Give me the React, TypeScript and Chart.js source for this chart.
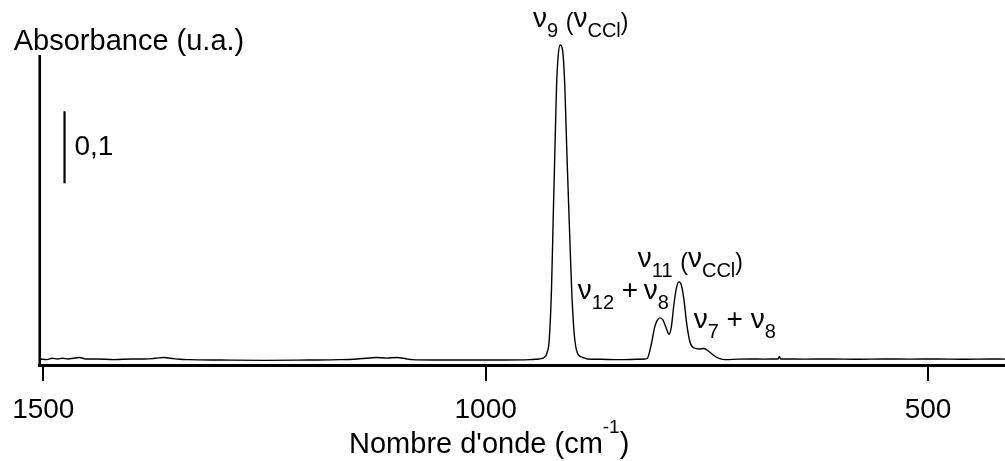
import React, { useEffect, useRef } from "react";
import { Chart, registerables } from "chart.js";

Chart.register(...registerables);

const FONT = '"Liberation Sans", Arial, Helvetica, sans-serif';

// Spectrum: wavenumber (cm-1) and absorbance (u.a.)
const wavenumbers = [
  1504, 1496, 1490, 1484, 1478, 1472, 1466, 1459, 1452, 1440, 1420, 1400, 1385, 1377, 1370,
  1363, 1356, 1346, 1335, 1300, 1250, 1200, 1165, 1145, 1135, 1124, 1112, 1100, 1090, 1083,
  1060, 1020, 980, 950, 944, 940, 937.6, 933.9, 930.5, 928.2, 925.5, 923.7, 921.8, 919.9,
  918.1, 915.8, 913.1, 910.5, 908.2, 905.6, 902.9, 900.0, 896.2, 890, 884.9, 870, 850, 830,
  820, 817.2, 812.6, 808.9, 805.9, 802.9, 799.5, 795.7, 792.8, 790.1, 787.1, 784.1, 781.5,
  778.8, 775.8, 772.8, 769.1, 764.6, 758.9, 753.3, 747.6, 742, 736.3, 728.8, 715, 700, 685,
  672, 669.5, 668, 666.5, 664, 640, 610, 580, 550, 520, 490, 460, 430, 413,
];
const absorbance = [
  0.001, 0.0, 0.002, 0.001, 0.002, 0.001, 0.002, 0.003, 0.001, 0.001, 0.0, 0.001, 0.001, 0.0015, 0.0025,
  0.003, 0.002, 0.0005, 0.0, -0.0005, -0.001, -0.0005, 0.0, 0.001, 0.002, 0.003, 0.0022, 0.003, 0.0012, 0.0,
  -0.0005, -0.0005, -0.0005, 0.0, 0.0005, 0.001, 0.0015, 0.003, 0.01, 0.027, 0.101, 0.194, 0.287, 0.379,
  0.421, 0.437, 0.43, 0.379, 0.287, 0.194, 0.101, 0.037, 0.009, 0.003, 0.001, 0.0005, 0.0, 0.0005,
  0.001, 0.002, 0.0225, 0.0456, 0.0549, 0.058, 0.0549, 0.0433, 0.0354, 0.0456, 0.078, 0.101, 0.108,
  0.1035, 0.0826, 0.0503, 0.0246, 0.0163, 0.0149, 0.0156, 0.0114, 0.0058, 0.0019, 0.0, 0.0008, 0.001, 0.0008,
  0.001, 0.001, 0.0045, 0.001, 0.001, 0.0008, 0.001, 0.0006, 0.001, 0.0008, 0.001, 0.0006, 0.001, 0.0008,
];

const xTickValues = [1500, 1000, 500];
const xRange = { min: 413, max: 1504 };
const yRange = { min: -0.0074, max: 0.444 };
const yAxisTop = 0.423;
const scaleBar = { w: 1476, from: 0.245, to: 0.345, label: "0,1" };
const yTitle = "Absorbance (u.a.)";
const xTitle = "Nombre d'onde (cm";
const xTitleSup = "-1";

type Seg = { t: string; size: number; dy?: number };
const MAIN = 28;
const SUB = 20;
const PAR = 23;
const SUBDY = 10;

const peakLabels: { w: number; a: number; segs: Seg[] }[] = [
  {
    w: 946.6,
    a: 0.462,
    segs: [
      { t: "ν", size: MAIN },
      { t: "9", size: SUB, dy: SUBDY },
      { t: " ", size: MAIN },
      { t: "(", size: PAR, dy: 3 },
      { t: "ν", size: MAIN },
      { t: "CCl", size: SUB, dy: SUBDY },
      { t: ")", size: PAR, dy: 3 },
    ],
  },
  {
    w: 828.1,
    a: 0.1288,
    segs: [
      { t: "ν", size: MAIN },
      { t: "11", size: SUB, dy: SUBDY },
      { t: " ", size: MAIN },
      { t: "(", size: PAR, dy: 3 },
      { t: "ν", size: MAIN },
      { t: "CCl", size: SUB, dy: SUBDY },
      { t: ")", size: PAR, dy: 3 },
    ],
  },
  {
    w: 895.8,
    a: 0.0843,
    segs: [
      { t: "ν", size: MAIN },
      { t: "12", size: SUB, dy: SUBDY },
      { t: " ", size: MAIN },
      { t: "+", size: MAIN },
      { t: " ", size: SUB },
      { t: "ν", size: MAIN },
      { t: "8", size: SUB, dy: SUBDY },
    ],
  },
  {
    w: 764.9,
    a: 0.044,
    segs: [
      { t: "ν", size: MAIN },
      { t: "7", size: SUB, dy: SUBDY },
      { t: " ", size: MAIN },
      { t: "+", size: MAIN },
      { t: " ", size: MAIN },
      { t: "ν", size: MAIN },
      { t: "8", size: SUB, dy: SUBDY },
    ],
  },
];

function drawSegs(ctx: CanvasRenderingContext2D, x: number, y: number, segs: Seg[]) {
  let cx = x;
  for (const s of segs) {
    ctx.font = `${s.size}px ${FONT}`;
    ctx.fillText(s.t, cx, y + (s.dy || 0));
    cx += ctx.measureText(s.t).width;
  }
}

function segsWidth(ctx: CanvasRenderingContext2D, segs: Seg[]) {
  let w = 0;
  for (const s of segs) {
    ctx.font = `${s.size}px ${FONT}`;
    w += ctx.measureText(s.t).width;
  }
  return w;
}

const decorPlugin = {
  id: "decor",
  afterDraw(chart: any) {
    const ctx: CanvasRenderingContext2D = chart.ctx;
    const xs = chart.scales.x;
    const ys = chart.scales.y;
    const area = chart.chartArea;
    ctx.save();
    ctx.strokeStyle = "#000";
    ctx.fillStyle = "#000";
    // y axis line
    ctx.lineWidth = 2.6;
    ctx.beginPath();
    ctx.moveTo(area.left, ys.getPixelForValue(yAxisTop));
    ctx.lineTo(area.left, area.bottom + 1.5);
    ctx.stroke();
    // scale bar
    const bx = xs.getPixelForValue(scaleBar.w);
    ctx.lineWidth = 2.2;
    ctx.beginPath();
    ctx.moveTo(bx, ys.getPixelForValue(scaleBar.from));
    ctx.lineTo(bx, ys.getPixelForValue(scaleBar.to));
    ctx.stroke();
    ctx.font = `${MAIN}px ${FONT}`;
    ctx.textAlign = "left";
    ctx.textBaseline = "middle";
    ctx.fillText(scaleBar.label, bx + 10, ys.getPixelForValue((scaleBar.from + scaleBar.to) / 2));
    // titles
    ctx.textBaseline = "alphabetic";
    ctx.font = `29px ${FONT}`;
    ctx.fillText(yTitle, area.left - 26, area.top + 10);
    const xsegs: Seg[] = [
      { t: xTitle, size: 29 },
      { t: xTitleSup, size: 19, dy: -20 },
      { t: ")", size: 29 },
    ];
    const tw = segsWidth(ctx, xsegs);
    drawSegs(ctx, xs.getPixelForValue(996) - tw / 2, area.bottom + 88, xsegs);
    // peak labels
    for (const l of peakLabels) {
      drawSegs(ctx, xs.getPixelForValue(l.w), ys.getPixelForValue(l.a), l.segs);
    }
    ctx.restore();
  },
};

export default function App() {
  const ref = useRef<HTMLCanvasElement | null>(null);
  useEffect(() => {
    if (!ref.current) return;
    const points = wavenumbers.map((w, i) => ({ x: w, y: absorbance[i] }));
    const chart = new Chart(ref.current, {
      type: "line",
      data: {
        datasets: [
          {
            data: points,
            borderColor: "#000",
            borderWidth: 1.4,
            pointRadius: 0,
            fill: false,
            cubicInterpolationMode: "monotone",
          },
        ],
      },
      options: {
        responsive: false,
        animation: false,
        devicePixelRatio: 1,
        layout: { padding: { left: 38, top: 40, right: 0, bottom: 0 } },
        plugins: { legend: { display: false }, tooltip: { enabled: false }, title: { display: false } },
        scales: {
          x: {
            type: "linear",
            reverse: true,
            min: xRange.min,
            max: xRange.max,
            afterBuildTicks: (scale: any) => {
              scale.ticks = xTickValues.map((v) => ({ value: v }));
            },
            afterFit: (scale: any) => {
              scale.height = 96;
            },
            border: { display: true, color: "#000", width: 3 },
            grid: {
              display: true,
              drawOnChartArea: false,
              drawTicks: true,
              tickLength: 16,
              color: "#000",
              lineWidth: 2,
            },
            ticks: {
              color: "#000",
              padding: 12,
              maxRotation: 0,
              autoSkip: false,
              font: { family: FONT, size: 28 },
              callback: (v: any) => String(v),
            },
          },
          y: {
            type: "linear",
            display: false,
            min: yRange.min,
            max: yRange.max,
          },
        },
      },
      plugins: [decorPlugin],
    } as any);
    return () => chart.destroy();
  }, []);
  return (
    <div style={{ position: "absolute", left: 0, top: 0, width: 1005, height: 461, background: "#fff" }}>
      <canvas ref={ref} width={1005} height={461} style={{ display: "block" }} />
    </div>
  );
}
